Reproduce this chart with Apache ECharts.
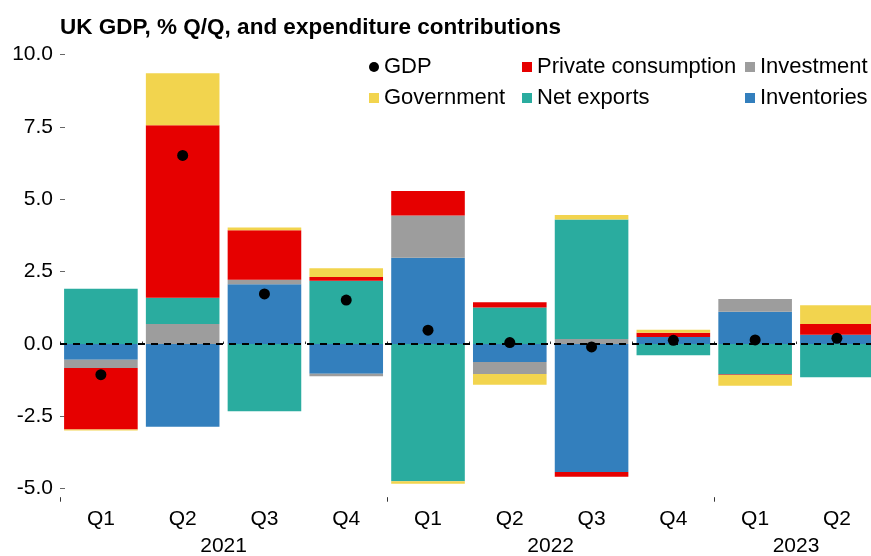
<!DOCTYPE html>
<html>
<head>
<meta charset="utf-8">
<title>UK GDP contributions</title>
<script src="https://cdn.jsdelivr.net/npm/echarts@6/dist/echarts.min.js"></script>
<style>
  html, body { margin: 0; padding: 0; background: #fff; }
  #chart { width: 871px; height: 556px; }
</style>
</head>
<body>
<div id="chart"></div>
<script>
  // quarters
  const categories = ['2021 Q1', '2021 Q2', '2021 Q3', '2021 Q4', '2022 Q1', '2022 Q2', '2022 Q3', '2022 Q4', '2023 Q1', '2023 Q2']
  const yearLabels = ['2021', '2022', '2023']
  const yearTickPos = [0, 4, 8]
  const yearLabelPos = [2, 6, 9]
  const yTicks = [-5, -2.5, 0, 2.5, 5, 7.5, 10]

  // contributions, pp
  const inventories = [-0.54, -2.86, 2.07, -1.03, 2.98, -0.62, -4.42, 0.24, 1.12, 0.32]
  const investment = [-0.29, 0.69, 0.15, -0.08, 1.46, -0.42, 0.17, 0.0, 0.44, 0.0]
  const netExports = [1.91, 0.91, -2.32, 2.19, -4.74, 1.26, 4.13, -0.39, -1.05, -1.15]
  const privateCons = [-2.12, 5.96, 1.71, 0.13, 0.85, 0.18, -0.17, 0.15, -0.02, 0.37]
  const government = [-0.04, 1.80, 0.10, 0.30, -0.09, -0.37, 0.16, 0.10, -0.37, 0.65]
  const gdp = [-1.06, 6.52, 1.73, 1.52, 0.48, 0.05, -0.10, 0.13, 0.14, 0.20]

  const FONT = '"Liberation Sans", Arial, sans-serif'
  const colors = {
    inventories: '#337FBD',
    investment: '#9D9D9D',
    netExports: '#2AAC9F',
    privateCons: '#E60000',
    government: '#F2D44E'
  }

  function barSeries(name, data, color) {
    return {
      name: name,
      type: 'bar',
      stack: 'total',
      barWidth: '90%',
      itemStyle: { color: color },
      data: data
    }
  }

  function legendCol(left, names) {
    return {
      orient: 'vertical',
      left: left,
      top: 56,
      padding: 0,
      itemGap: 9,
      itemWidth: 10,
      itemHeight: 10,
      textStyle: { fontSize: 22, lineHeight: 22, color: '#000', fontFamily: FONT },
      data: names.map(n => ({ name: n, icon: n === 'GDP' ? 'circle' : 'rect' }))
    }
  }

  const govSeries = barSeries('Government', government, colors.government)
  // dashed zero line over the bars
  govSeries.markLine = {
    silent: true,
    symbol: 'none',
    label: { show: false },
    lineStyle: { color: '#000', width: 2, type: [7, 6] },
    data: [{ yAxis: 0 }]
  }

  const option = {
    animation: false,
    textStyle: { fontFamily: FONT },
    title: {
      text: 'UK GDP, % Q/Q, and expenditure contributions',
      left: 60,
      top: 16,
      padding: 0,
      textStyle: { fontSize: 22.5, fontWeight: 'bold', color: '#000', fontFamily: FONT }
    },
    legend: [
      legendCol(369, ['GDP', 'Government']),
      legendCol(522, ['Private consumption', 'Net exports']),
      legendCol(745, ['Investment', 'Inventories'])
    ],
    grid: { left: 60, top: 54.7, width: 817.8, height: 434, outerBoundsMode: 'none' },
    xAxis: [
      {
        type: 'category',
        data: categories,
        offset: 13,
        axisLine: { show: false },
        axisTick: { show: true, inside: true, length: 2.5, lineStyle: { color: '#333' } },
        axisLabel: {
          fontSize: 21, color: '#000', margin: 7,
          formatter: v => v.split(' ')[1]
        }
      },
      {
        type: 'value',
        min: 0,
        max: 10,
        position: 'bottom',
        offset: 13,
        axisLine: { show: false },
        splitLine: { show: false },
        axisTick: { show: true, inside: true, length: 4.5, customValues: yearTickPos, lineStyle: { color: '#333' } },
        axisLabel: {
          fontSize: 21, color: '#000', margin: 34,
          customValues: yearLabelPos,
          formatter: v => yearLabels[yearLabelPos.indexOf(v)]
        }
      }
    ],
    yAxis: {
      type: 'value',
      min: yTicks[0],
      max: yTicks[yTicks.length - 1],
      interval: 2.5,
      axisLine: { show: false },
      splitLine: { show: false },
      axisTick: { show: true, inside: true, length: 5, lineStyle: { color: '#666' } },
      axisLabel: { fontSize: 21, color: '#000', margin: 7, formatter: v => v.toFixed(1) }
    },
    series: [
      barSeries('Inventories', inventories, colors.inventories),
      barSeries('Investment', investment, colors.investment),
      barSeries('Net exports', netExports, colors.netExports),
      barSeries('Private consumption', privateCons, colors.privateCons),
      govSeries,
      {
        name: 'GDP',
        type: 'scatter',
        symbol: 'circle',
        symbolSize: 11,
        z: 10,
        itemStyle: { color: '#000', opacity: 1 },
        data: gdp
      }
    ]
  }

  const myChart = echarts.init(document.getElementById('chart'))
  myChart.setOption(option)
</script>
</body>
</html>
